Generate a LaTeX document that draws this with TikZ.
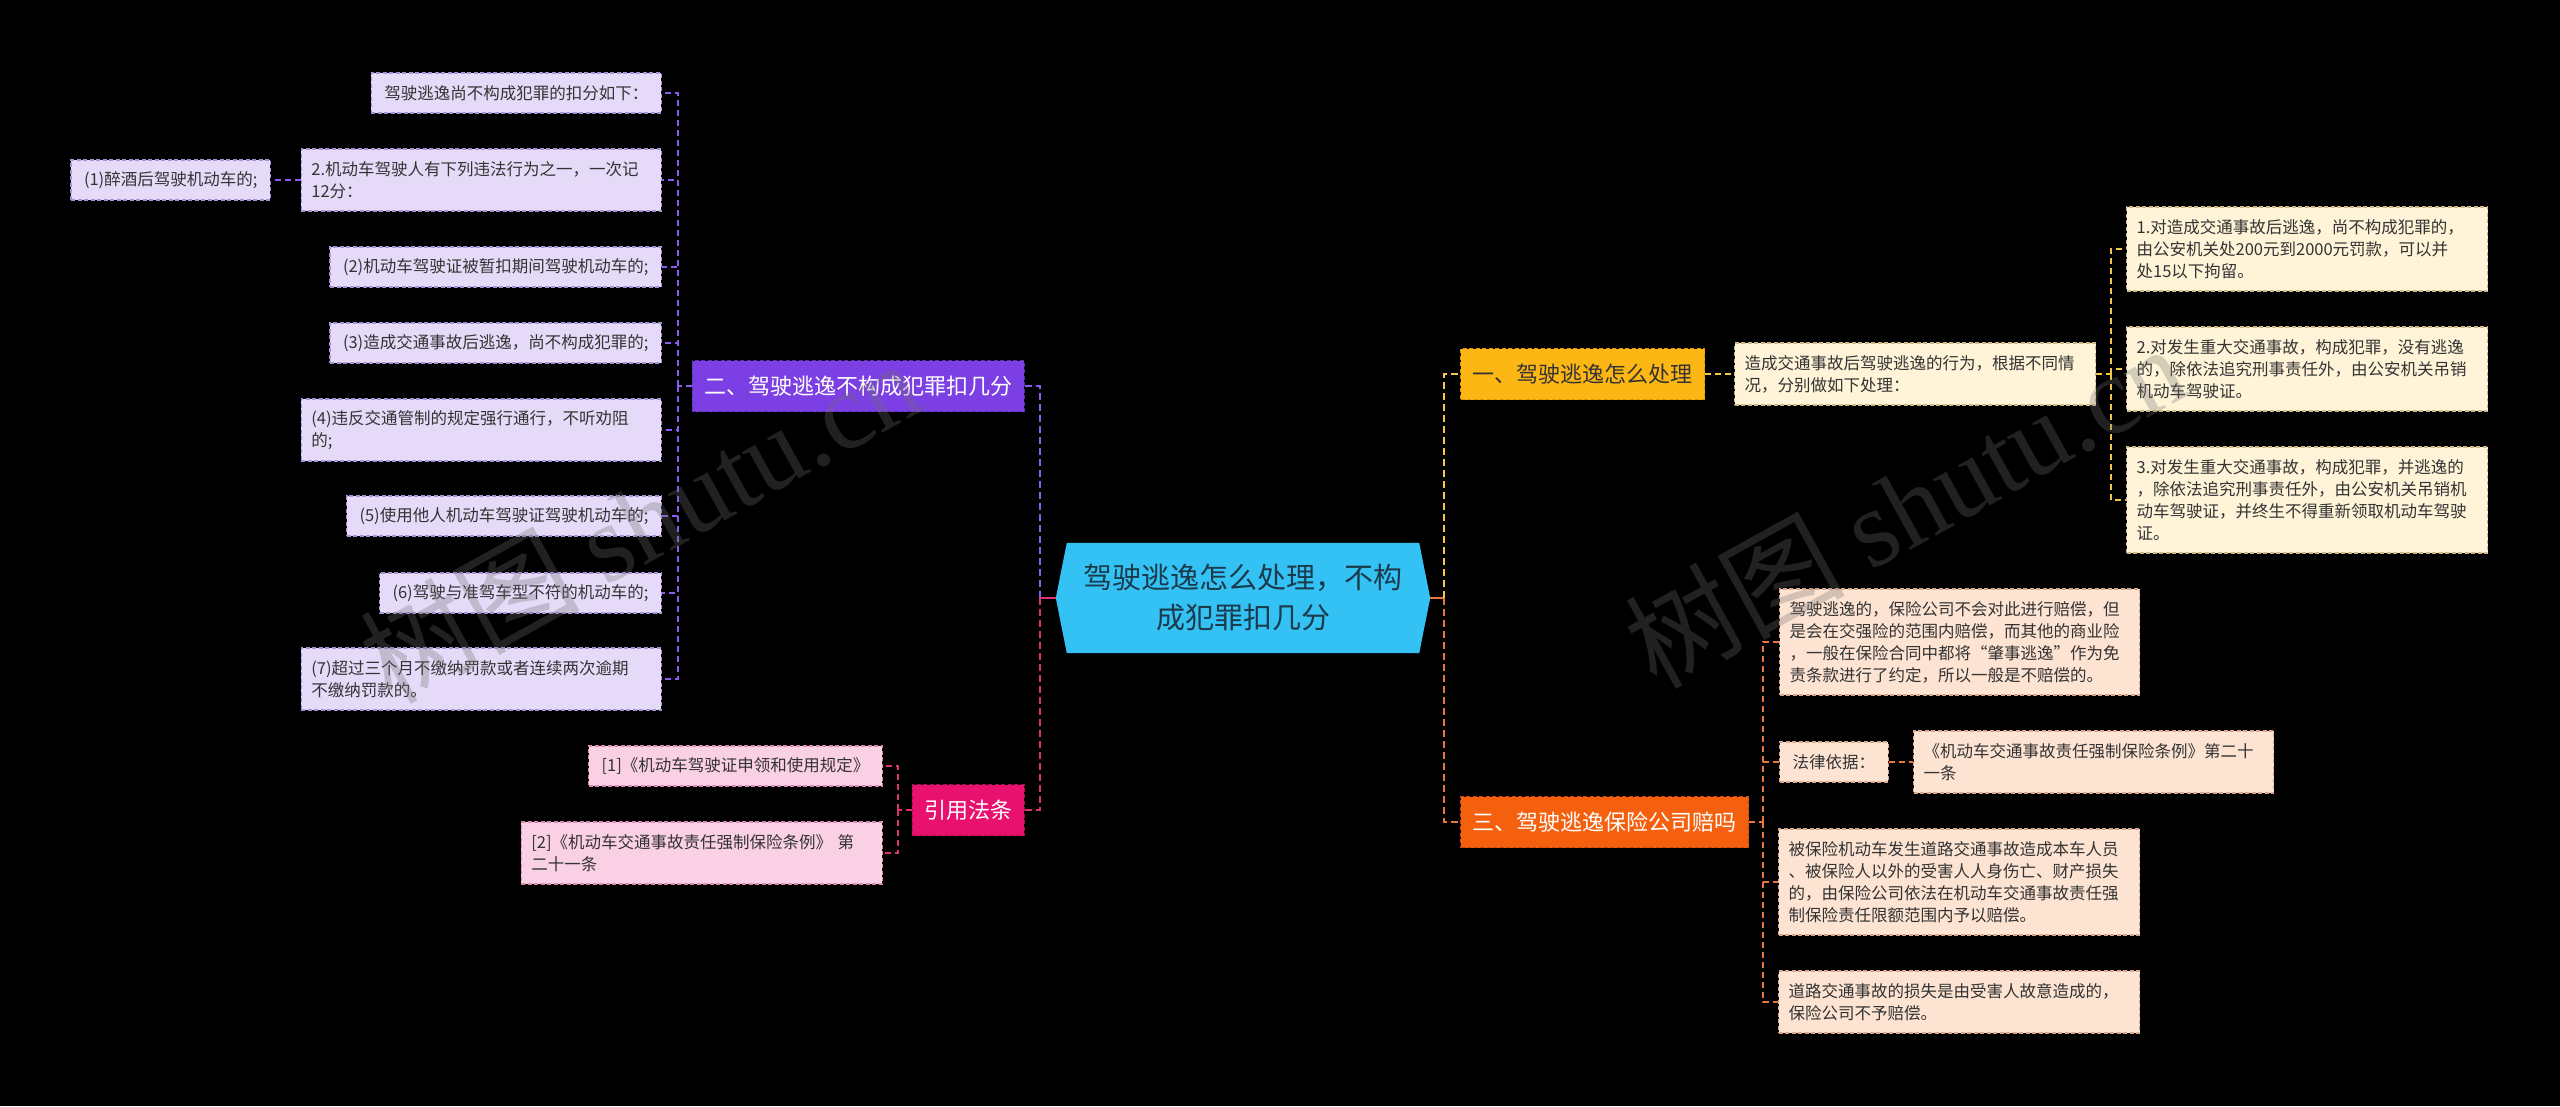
\documentclass[tikz,border=0pt]{standalone}
\usepackage{fontspec}
\setmainfont{Noto Sans CJK SC}
\newfontfamily\wmlatin{Liberation Serif}
\usetikzlibrary{backgrounds}
\definecolor{rootfill}{HTML}{33C2F3}
\definecolor{roottext}{HTML}{1B3A4B}
\definecolor{pbranch}{HTML}{7B3FE4}
\definecolor{pbranchdraw}{HTML}{5E2DB5}
\definecolor{pleaffill}{HTML}{E5DBF9}
\definecolor{pleafdraw}{HTML}{A493D6}
\definecolor{plinec}{HTML}{8A5CF0}
\definecolor{kbranch}{HTML}{E8116E}
\definecolor{kbranchdraw}{HTML}{B00C52}
\definecolor{kleaffill}{HTML}{FAD0E4}
\definecolor{kleafdraw}{HTML}{D98AAE}
\definecolor{klinec}{HTML}{D93370}
\definecolor{ybranch}{HTML}{FDB714}
\definecolor{ybranchdraw}{HTML}{D99A00}
\definecolor{yleaffill}{HTML}{FFF4D8}
\definecolor{yleafdraw}{HTML}{CDB98A}
\definecolor{ylinec}{HTML}{F5C644}
\definecolor{obranch}{HTML}{F5600F}
\definecolor{obranchdraw}{HTML}{C94A08}
\definecolor{oleaffill}{HTML}{FDE3D2}
\definecolor{oleafdraw}{HTML}{D9A88C}
\definecolor{olinec}{HTML}{EA763D}
\definecolor{leaftext}{HTML}{333333}
\definecolor{wmc}{HTML}{707070}
\begin{document}
\begin{tikzpicture}[x=1pt,y=-1pt,
  leaf/.style={rectangle, inner xsep=13pt, inner ysep=3pt, line width=1.2pt,
    dash pattern=on 4pt off 2.5pt, font=\fontsize{16.5pt}{22pt}\selectfont,
    text=leaftext, align=left, minimum height=40pt},
  pleaf/.style={leaf, fill=pleaffill, draw=pleafdraw},
  kleaf/.style={leaf, fill=kleaffill, draw=kleafdraw},
  yleaf/.style={leaf, fill=yleaffill, draw=yleafdraw},
  oleaf/.style={leaf, fill=oleaffill, draw=oleafdraw},
  branch/.style={rectangle, inner xsep=12pt, inner ysep=3pt, minimum height=51pt,
    line width=1.2pt, dash pattern=on 4pt off 2.5pt, font=\fontsize{22pt}{26pt}\selectfont},
  tw/.style={inner xsep=10pt, text width=#1pt},
  htwo/.style={minimum height=62pt},
  hthree/.style={minimum height=84pt},
  hfour/.style={minimum height=106pt},
  conn/.style={line width=2.4pt, dash pattern=on 7pt off 4pt},
  subconn/.style={line width=2pt, dash pattern=on 6pt off 4pt},
  wm/.style={font=\fontsize{110pt}{110pt}\selectfont, text=wmc, text opacity=0.3, rotate=29}
]
\useasboundingbox (0,0) rectangle (2560,1106);
\begin{scope}[on background layer]
\fill[black] (0,0) rectangle (2560,1106);
\end{scope}

% root
\node[font=\fontsize{29pt}{40pt}\selectfont, text=roottext, align=center,
  minimum width=374pt, minimum height=110pt, inner sep=0pt] (root) at (1243,598)
  {驾驶逃逸怎么处理，不构\\成犯罪扣几分};
\begin{scope}[on background layer]
\fill[rootfill] (root.west) -- ([xshift=11pt]root.north west) -- ([xshift=-11pt]root.north east)
  -- (root.east) -- ([xshift=-11pt]root.south east) -- ([xshift=11pt]root.south west) -- cycle;
\end{scope}

% branches
\node[branch, fill=pbranch, draw=pbranchdraw, text=white, anchor=east] (b2) at (1025,386) {二、驾驶逃逸不构成犯罪扣几分};
\node[branch, fill=kbranch, draw=kbranchdraw, text=white, anchor=east] (b4) at (1025,810) {引用法条};
\node[branch, fill=ybranch, draw=ybranchdraw, text=leaftext, anchor=west] (b1) at (1460,374) {一、驾驶逃逸怎么处理};
\node[branch, fill=obranch, draw=obranchdraw, text=white, anchor=west] (b3) at (1460,822) {三、驾驶逃逸保险公司赔吗};

% purple leaves
\node[pleaf, anchor=east] (L1) at (662,93) {驾驶逃逸尚不构成犯罪的扣分如下：};
\node[pleaf, anchor=east, tw=340, htwo] (L2) at (662,180) {2.机动车驾驶人有下列违法行为之一，一次记\\12分：};
\node[pleaf, anchor=east] (L0) at (271,180) {(1)醉酒后驾驶机动车的;};
\node[pleaf, anchor=east] (L3) at (662,267) {(2)机动车驾驶证被暂扣期间驾驶机动车的;};
\node[pleaf, anchor=east] (L4) at (662,343) {(3)造成交通事故后逃逸，尚不构成犯罪的;};
\node[pleaf, anchor=east, tw=340, htwo] (L5) at (662,430) {(4)违反交通管制的规定强行通行，不听劝阻\\的;};
\node[pleaf, anchor=east] (L6) at (662,516) {(5)使用他人机动车驾驶证驾驶机动车的;};
\node[pleaf, anchor=east] (L7) at (662,593) {(6)驾驶与准驾车型不符的机动车的;};
\node[pleaf, anchor=east, tw=340, htwo] (L8) at (662,679) {(7)超过三个月不缴纳罚款或者连续两次逾期\\不缴纳罚款的。};

% pink leaves
\node[kleaf, anchor=east] (R1) at (883,766) {[1]《机动车驾驶证申领和使用规定》};
\node[kleaf, anchor=east, tw=341, htwo] (R2) at (883,853) {[2]《机动车交通事故责任强制保险条例》 第\\二十一条};

% yellow leaves
\node[yleaf, anchor=west, tw=341, htwo] (C1) at (1734,374) {造成交通事故后驾驶逃逸的行为，根据不同情\\况，分别做如下处理：};
\node[yleaf, anchor=west, tw=341, hthree] (G1) at (2126,249) {1.对造成交通事故后逃逸，尚不构成犯罪的，\\由公安机关处200元到2000元罚款，可以并\\处15以下拘留。};
\node[yleaf, anchor=west, tw=341, hthree] (G2) at (2126,369) {2.对发生重大交通事故，构成犯罪，没有逃逸\\的，除依法追究刑事责任外，由公安机关吊销\\机动车驾驶证。};
\node[yleaf, anchor=west, tw=341, hfour] (G3) at (2126,500) {3.对发生重大交通事故，构成犯罪，并逃逸的\\，除依法追究刑事责任外，由公安机关吊销机\\动车驾驶证，并终生不得重新领取机动车驾驶\\证。};

% orange leaves
\node[oleaf, anchor=west, tw=340, hfour] (H1) at (1779,642) {驾驶逃逸的，保险公司不会对此进行赔偿，但\\是会在交强险的范围内赔偿，而其他的商业险\\，一般在保险合同中都将“肇事逃逸”作为免\\责条款进行了约定，所以一般是不赔偿的。};
\node[oleaf, anchor=west] (H2) at (1779,762) {法律依据：};
\node[oleaf, anchor=west, tw=340, htwo] (H2b) at (1913,762) {《机动车交通事故责任强制保险条例》第二十\\一条};
\node[oleaf, anchor=west, tw=341, hfour] (H3) at (1778,882) {被保险机动车发生道路交通事故造成本车人员\\、被保险人以外的受害人人身伤亡、财产损失\\的，由保险公司依法在机动车交通事故责任强\\制保险责任限额范围内予以赔偿。};
\node[oleaf, anchor=west, tw=341, htwo] (H4) at (1778,1002) {道路交通事故的损失是由受害人故意造成的，\\保险公司不予赔偿。};

% junctions
\coordinate (lj) at (1040,598);
\coordinate (rj) at (1444,598);
\coordinate (pj) at (678,386);
\coordinate (qj) at (898,810);
\coordinate (cj) at (2111,374);
\coordinate (hj) at (1763,822);

% root connectors
\draw[line width=2.4pt, klinec] (root.west) -- (lj);
\draw[conn, plinec] (lj) |- (b2.east);
\draw[conn, klinec] (lj) |- (b4.east);
\draw[line width=2.4pt, olinec] (root.east) -- (rj);
\draw[conn, ylinec] (rj) |- (b1.west);
\draw[conn, olinec] (rj) |- (b3.west);

% purple
\draw[subconn, plinec] (b2.west) -- (pj);
\foreach \n in {L1,L2,L3,L4,L5,L6,L7,L8} \draw[subconn, plinec] (pj) |- (\n.east);
\draw[subconn, plinec] (L2.west) -- (L0.east);

% pink
\draw[subconn, klinec] (b4.west) -- (qj);
\foreach \n in {R1,R2} \draw[subconn, klinec] (qj) |- (\n.east);

% yellow
\draw[subconn, ylinec] (b1.east) -- (C1.west);
\draw[subconn, ylinec] (C1.east) -- (cj);
\foreach \n in {G1,G2,G3} \draw[subconn, ylinec] (cj) |- (\n.west);

% orange
\draw[subconn, olinec] (b3.east) -- (hj);
\foreach \n in {H1,H2,H3,H4} \draw[subconn, olinec] (hj) |- (\n.west);
\draw[subconn, olinec] (H2.east) -- (H2b.west);

% watermarks
\node[wm] (wm1) at (640,520) {树图 {\wmlatin shutu.cn}};
\node[wm] (wm2) at (1905,505) {树图 {\wmlatin shutu.cn}};
\end{tikzpicture}
\end{document}
